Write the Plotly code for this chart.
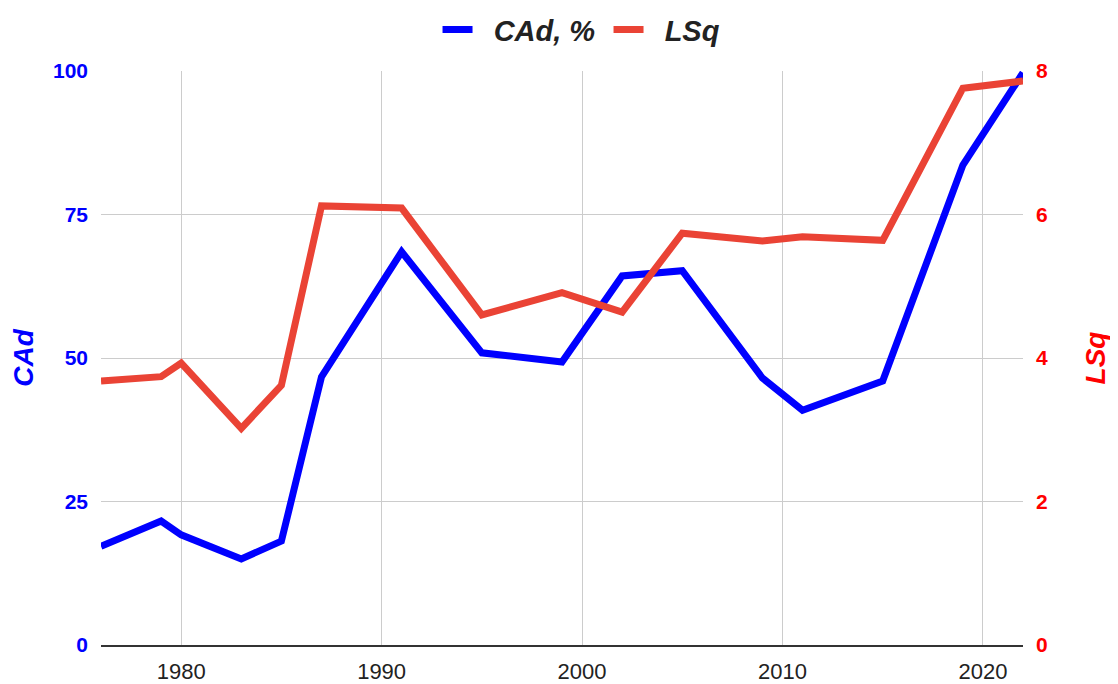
import plotly.graph_objects as go

years = [1976, 1979, 1980, 1983, 1985, 1987, 1991, 1995, 1999, 2002, 2005, 2009, 2011, 2015, 2019, 2022]
cad = [17.2, 21.6, 19.2, 15.0, 18.1, 46.7, 68.5, 50.9, 49.3, 64.3, 65.2, 46.5, 40.9, 46.0, 83.6, 99.7]
lsq = [3.68, 3.74, 3.93, 3.02, 3.62, 6.12, 6.09, 4.60, 4.91, 4.64, 5.74, 5.63, 5.69, 5.64, 7.76, 7.86]

left_ticks = [0, 25, 50, 75, 100]
right_ticks = [0, 2, 4, 6, 8]
x_ticks = [1980, 1990, 2000, 2010, 2020]

FONT = "Liberation Sans, Arial, sans-serif"
NB = "\u00a0"

fig = go.Figure()
fig.add_trace(go.Scatter(x=years, y=cad, name=NB * 2 + "<b><i>CAd, %</i></b>", mode="lines",
                         line=dict(color="#0000ff", width=7), yaxis="y"))
fig.add_trace(go.Scatter(x=years, y=lsq, name=NB * 2 + "<b><i>LSq</i></b>", mode="lines",
                         line=dict(color="#ea4335", width=7), yaxis="y2"))

fig.update_layout(
    width=1110, height=676,
    margin=dict(l=93, r=95, t=63, b=39, autoexpand=False),
    plot_bgcolor="white", paper_bgcolor="white",
    font=dict(family=FONT, color="#222222"),
    showlegend=True,
    legend=dict(orientation="h", x=0.365, y=1.072, xanchor="left", yanchor="middle",
                font=dict(size=29, color="#222222"), entrywidth=126, entrywidthmode="pixels"),
    xaxis=dict(range=[1976, 2022], tickvals=x_ticks, showgrid=True, gridcolor="#cccccc",
               gridwidth=1, zeroline=False, showline=True, linecolor="#333333", linewidth=2,
               tickfont=dict(size=22, color="#222222"), ticks="", ticklabelstandoff=6,
               automargin=False),
    yaxis=dict(range=[0, 100], tickvals=left_ticks, showgrid=True, gridcolor="#cccccc",
               zeroline=False, tickfont=dict(size=21, color="#0000ff", weight="bold"),
               ticks="", ticklabelstandoff=12, automargin=False,
               title=dict(text="<b><i>CAd</i></b>", font=dict(size=28, color="#0000ff"), standoff=16)),
    yaxis2=dict(range=[0, 8], tickvals=right_ticks, overlaying="y", side="right",
                showgrid=False, zeroline=False, automargin=False,
                tickfont=dict(size=21, color="#ff0000", weight="bold"),
                ticks="", ticklabelstandoff=12,
                title=dict(text="<b><i>LSq</i></b>", font=dict(size=28, color="#ff0000"), standoff=38)),
)

fig.write_html("out.html")
